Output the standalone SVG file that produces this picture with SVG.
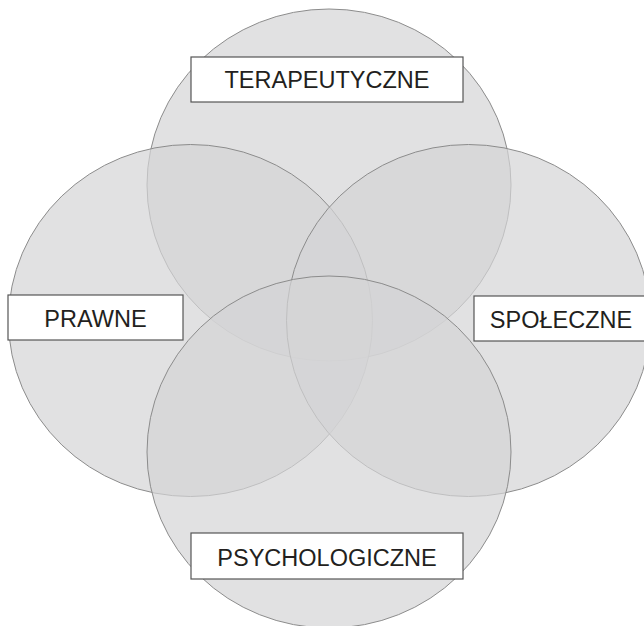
<svg xmlns="http://www.w3.org/2000/svg" width="644" height="626" viewBox="0 0 644 626">
<style>
.c{fill:#d4d4d6;fill-opacity:0.7;stroke:#8c8c8c;stroke-width:1}
.b{fill:#ffffff;stroke:#555555;stroke-width:1.2}
.t{font-family:"Liberation Sans",Arial,sans-serif;font-size:23.5px;fill:#231f20;text-anchor:middle}
</style>
<rect width="644" height="626" fill="#ffffff"/>
<g id="circles">
<ellipse id="c-top" class="c" cx="329" cy="185" rx="182" ry="176"/>
<ellipse id="c-left" class="c" cx="190.5" cy="320.5" rx="182" ry="176"/>
<ellipse id="c-right" class="c" cx="468.5" cy="320.5" rx="182" ry="176"/>
<ellipse id="c-bottom" class="c" cx="329" cy="452" rx="182" ry="176"/>
</g>
<g id="terapeutyczne">
<rect class="b" x="191" y="57" width="272" height="45"/>
<text class="t" x="327" y="88">TERAPEUTYCZNE</text>
</g>
<g id="prawne">
<rect class="b" x="8" y="295" width="175" height="45"/>
<text class="t" x="95.5" y="327">PRAWNE</text>
</g>
<g id="spoleczne">
<rect class="b" x="474" y="296" width="180" height="45"/>
<text class="t" x="561" y="328">SPOŁECZNE</text>
</g>
<g id="psychologiczne">
<rect class="b" x="191" y="533" width="272" height="46"/>
<text class="t" x="327" y="566">PSYCHOLOGICZNE</text>
</g>
</svg>
